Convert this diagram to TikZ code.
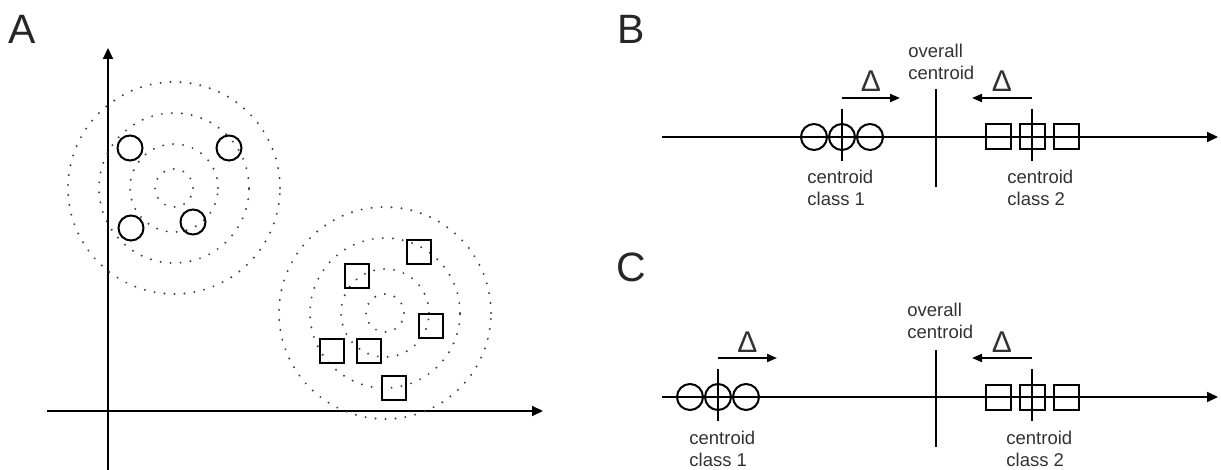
\documentclass[tikz,border=0pt]{standalone}
\usepackage{fontspec}
\setmainfont{Liberation Sans}
\usetikzlibrary{positioning}
\usetikzlibrary{arrows.meta}
\definecolor{mytextgray}{RGB}{50,50,50}
\newcommand{\gapcircle}{28}
\newcommand{\gapsquare}{34}
\tikzset{
    axisline/.style={line width=1pt, -{Triangle[length=5.5pt, width=5pt]}},
    ring/.style={draw=black!75, line width=1.1pt, line cap=round, dash pattern=on 0pt off 5pt},
    obs/.style={draw, line width=1pt, inner sep=0pt},
    circ/.style={obs, circle, minimum size=#1},
    circ/.default=12.5pt,
    sqr/.style={obs, rectangle, minimum size=#1},
    sqr/.default=12pt,
    centroidline/.style={line width=1pt},
    shiftarrow/.style={line width=1pt, -{Triangle[length=5pt, width=4pt]}},
    caption/.style={align=left, inner sep=0pt, text=mytextgray, font=\fontsize{9.25}{10.75}\selectfont},
    panel/.style={text=black!85, font=\fontsize{20.5}{24}\selectfont},
    delta/.style={anchor=south, inner sep=2.5pt, text=mytextgray, font=\fontsize{15}{16}\selectfont},
}

\begin{document}
\begin{tikzpicture}[x=0.5pt, y=-0.5pt]
    \useasboundingbox (0,0) rectangle (1221,470);

    % A: two groups in the plane
    \node[panel] (labA) at (22,29) {A};
    \coordinate (ybot) at (108,470);
    \coordinate (ytop) at (108,48);
    \coordinate (xleft) at (47,411);
    \coordinate (xright) at (543,411);
    \draw[axisline] (ybot) -- (ytop);
    \draw[axisline] (xleft) -- (xright);

    \coordinate (cl1) at (174,188);
    \coordinate (cl2) at (385,313);
    \foreach \r in {9.5,22,37.5,53}{
        \draw[ring] (cl1) circle[radius=\r pt];
        \draw[ring] (cl2) circle[radius=\r pt];
    }
    \foreach \p [count=\i] in {(130,148),(229,148),(131,228),(193,222)}
        \node[circ] (a\i) at \p {};
    \foreach \p [count=\i] in {(419,252),(357,276),(431,326),(332,351),(369,351),(394,388)}
        \node[sqr] (s\i) at \p {};

    % B: class centroids close to the overall one
    \node[panel] (labB) at (631,29) {B};
    \coordinate (bstart) at (662,137);
    \coordinate (bend) at (1218,137);
    \draw[axisline] (bstart) -- (bend);
    \path (814,137) node[circ=13pt] (b1) {}
        ++(\gapcircle,0) node[circ=13pt] (b2) {}
        ++(\gapcircle,0) node[circ=13pt] (b3) {};
    \path (998,137) node[sqr=12.5pt] (bq1) {}
        ++(\gapsquare,0) node[sqr=12.5pt] (bq2) {}
        ++(\gapsquare,0) node[sqr=12.5pt] (bq3) {};
    \draw[centroidline] ([yshift=14pt]b2.center) -- ([yshift=-12pt]b2.center);
    \draw[centroidline] ([yshift=14pt]bq2.center) -- ([yshift=-12pt]bq2.center);
    \node[caption, anchor=north west] (bcap1) at (807,170) {centroid\\class 1};
    \node[caption, anchor=north west] (bcap2) at (1007,170) {centroid\\class 2};

    \coordinate (btop) at (936,89);
    \coordinate (bbot) at (936,187);
    \draw[centroidline] (btop) -- (bbot);
    \node[caption, anchor=south west] (bover) at (908,80) {overall\\centroid};

    \coordinate[above=19.5pt of b2.center] (bl0);
    \coordinate[right=29pt of bl0] (bl1);
    \draw[shiftarrow] (bl0) -- (bl1) node[delta, midway] (bdl) {Δ};
    \coordinate[above=19.5pt of bq2.center] (br0);
    \coordinate[left=30pt of br0] (br1);
    \draw[shiftarrow] (br0) -- (br1) node[delta, midway] (bdr) {Δ};

    % C: class 1 moved far to the left
    \node[panel] (labC) at (631,267) {C};
    \coordinate (cstart) at (662,397);
    \coordinate (cend) at (1218,397);
    \draw[axisline] (cstart) -- (cend);
    \path (690,397) node[circ=13pt] (c1) {}
        ++(\gapcircle,0) node[circ=13pt] (c2) {}
        ++(\gapcircle,0) node[circ=13pt] (c3) {};
    \path (998,397) node[sqr=12.5pt] (cq1) {}
        ++(\gapsquare,0) node[sqr=12.5pt] (cq2) {}
        ++(\gapsquare,0) node[sqr=12.5pt] (cq3) {};
    \draw[centroidline] ([yshift=14pt]c2.center) -- ([yshift=-12pt]c2.center);
    \draw[centroidline] ([yshift=14pt]cq2.center) -- ([yshift=-12pt]cq2.center);
    \node[caption, anchor=north west] (ccap1) at (689,431) {centroid\\class 1};
    \node[caption, anchor=north west] (ccap2) at (1006,431) {centroid\\class 2};

    \coordinate (ctop) at (936,350);
    \coordinate (cbot) at (936,447);
    \draw[centroidline] (ctop) -- (cbot);
    \node[caption, anchor=south west] (cover) at (907,339) {overall\\centroid};

    \coordinate[above=19.5pt of c2.center] (cl0);
    \coordinate[right=29.5pt of cl0] (cl1);
    \draw[shiftarrow] (cl0) -- (cl1) node[delta, midway] (cdl) {Δ};
    \coordinate[above=19.5pt of cq2.center] (cr0);
    \coordinate[left=30pt of cr0] (cr1);
    \draw[shiftarrow] (cr0) -- (cr1) node[delta, midway] (cdr) {Δ};
\end{tikzpicture}
\end{document}
